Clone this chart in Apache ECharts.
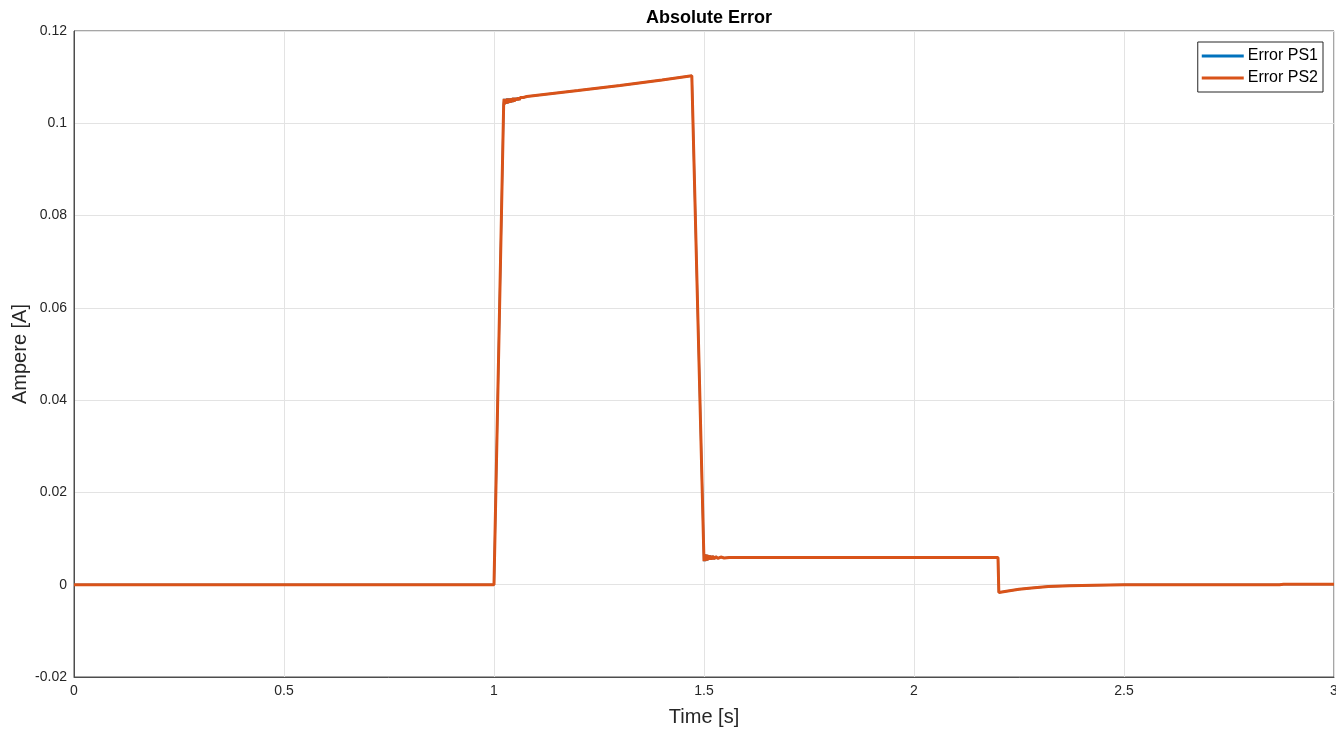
<!DOCTYPE html>
<html>
<head>
<meta charset="utf-8">
<script src="https://cdn.jsdelivr.net/npm/echarts@6/dist/echarts.min.js"></script>
<style>html,body{margin:0;padding:0;background:#fff}#c{width:1336px;height:731px}</style>
</head>
<body>
<div id="c"></div>
<script>
const titleText = 'Absolute Error';
const seriesNames = ['Error PS1', 'Error PS2'];
const xTickLabels = ['0', '0.5', '1', '1.5', '2', '2.5', '3'];
const yTickLabels = ['-0.02', '0', '0.02', '0.04', '0.06', '0.08', '0.1', '0.12'];

const timeS = [0, 1.0, 1.023,
  1.024, 1.025, 1.026, 1.027, 1.028, 1.029, 1.030, 1.031, 1.032, 1.033, 1.034, 1.035, 1.036, 1.037, 1.038, 1.040, 1.042, 1.044, 1.046, 1.048, 1.050,
  1.052, 1.054, 1.056, 1.058, 1.060, 1.063, 1.066, 1.070, 1.078,
  1.2, 1.3, 1.4, 1.471,
  1.500, 1.501, 1.502, 1.503, 1.504, 1.505, 1.506, 1.507, 1.508, 1.510, 1.512, 1.514, 1.517, 1.520, 1.524, 1.528, 1.533, 1.540, 1.548, 1.56,
  2.2, 2.202, 2.22, 2.25, 2.28, 2.32, 2.37, 2.43, 2.5, 2.87, 2.88, 3.0];
const errPS2 = [0, 0, 0.1040,
  0.1053, 0.1041, 0.1053, 0.1042, 0.1053, 0.1042, 0.1053, 0.1043, 0.1054, 0.1043, 0.1054, 0.1044, 0.1054, 0.1044, 0.1054, 0.1045, 0.1054, 0.1046, 0.1055, 0.1047, 0.1055,
  0.1049, 0.1055, 0.1050, 0.1056, 0.1051, 0.1056, 0.1054, 0.1056, 0.1058,
  0.1071, 0.1082, 0.1094, 0.1103,
  0.0051, 0.0066, 0.0051, 0.0066, 0.0052, 0.0065, 0.0052, 0.0065, 0.0053, 0.0064, 0.0054, 0.0063, 0.0055, 0.0062, 0.0056, 0.0061, 0.0057, 0.0060, 0.0058, 0.0059,
  0.0059, -0.0017, -0.0014, -0.0010, -0.0007, -0.0004, -0.0002, -0.0001, 0, 0, 0.0001, 0.0001];
const errPS1 = errPS2.slice();

const toPairs = (xs, ys) => xs.map((x, i) => [x, ys[i]]);
const FONT = 'Liberation Sans, Arial, sans-serif';

const chart = echarts.init(document.getElementById('c'), null, {renderer: 'canvas'});
chart.setOption({
  animation: false,
  backgroundColor: '#ffffff',
  title: {
    text: titleText, left: 704, textAlign: 'center', top: 4,
    textStyle: {fontFamily: FONT, fontSize: 18, fontWeight: 'bold', color: '#000'}
  },
  grid: {left: 74, right: 2, top: 31, bottom: 54, outerBoundsMode: 'none', containLabel: false,
    show: true, borderColor: '#4d4d4d', borderWidth: 1, backgroundColor: '#fff'},
  legend: {
    right: 13, top: 42, orient: 'vertical',
    backgroundColor: '#fff', borderColor: '#262626', borderWidth: 1,
    padding: [4, 5, 4, 4], itemGap: 2, itemWidth: 42, itemHeight: 3, icon: 'rect',
    textStyle: {fontFamily: FONT, fontSize: 16, color: '#000', lineHeight: 20, padding: [0, 0, 0, -1]},
    data: seriesNames
  },
  xAxis: {
    type: 'value', min: 0, max: 3, interval: 0.5,
    name: 'Time [s]', nameLocation: 'middle', nameGap: 30, nameMoveOverlap: false,
    nameTextStyle: {fontFamily: FONT, fontSize: 20, color: '#262626'},
    axisLine: {show: true, onZero: false, lineStyle: {color: '#4d4d4d'}},
    axisTick: {show: false},
    axisLabel: {margin: 7, fontFamily: FONT, fontSize: 14, color: '#262626',
      formatter: v => xTickLabels[Math.round(v / 0.5)]},
    splitLine: {show: true, lineStyle: {color: '#e3e3e3', width: 1}}
  },
  yAxis: {
    type: 'value', min: -0.02, max: 0.12, interval: 0.02,
    name: 'Ampere [A]', nameLocation: 'middle', nameGap: 44, nameMoveOverlap: false,
    nameTextStyle: {fontFamily: FONT, fontSize: 20, color: '#262626'},
    axisLine: {show: true, onZero: false, lineStyle: {color: '#4d4d4d'}},
    axisTick: {show: false},
    axisLabel: {margin: 7, fontFamily: FONT, fontSize: 14, color: '#262626',
      formatter: v => yTickLabels[Math.round((v + 0.02) / 0.02)]},
    splitLine: {show: true, lineStyle: {color: '#e3e3e3', width: 1}}
  },
  series: [
    {name: seriesNames[0], type: 'line', data: toPairs(timeS, errPS1), showSymbol: false, symbol: 'none',
      color: '#0072BD', lineStyle: {width: 2, color: '#0072BD'}},
    {name: seriesNames[1], type: 'line', data: toPairs(timeS, errPS2), showSymbol: false, symbol: 'none',
      color: '#D95319', lineStyle: {width: 3, color: '#D95319'}}
  ]
});
</script>
</body>
</html>
